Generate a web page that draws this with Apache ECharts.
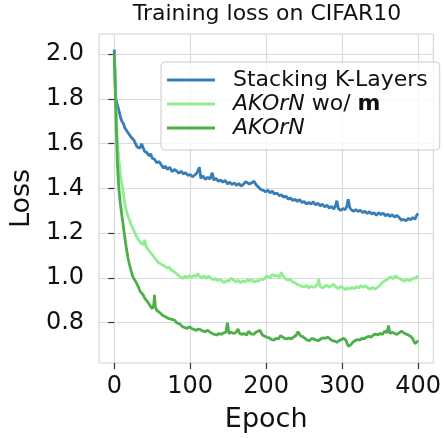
<!DOCTYPE html>
<html lang="en">
<head>
<meta charset="UTF-8">
<title>Training loss on CIFAR10</title>
<script src="https://cdn.jsdelivr.net/npm/echarts@6/dist/echarts.min.js"></script>
<style>
  html, body { margin: 0; padding: 0; background: #fff; }
  #chart { width: 444px; height: 438px; }
</style>
</head>
<body>
<div id="chart"></div>
<script>
// values
const seriesNames = ['Stacking K-Layers', 'AKOrN wo/ m', 'AKOrN']
const xTicks = [0, 100, 200, 300, 400]
const yTicks = [0.8, 1.0, 1.2, 1.4, 1.6, 1.8, 2.0]

const stackEpochs = [0, 1, 2, 4, 6, 8, 10, 12, 14, 16, 18, 20, 22, 24, 26, 28, 30, 32, 34, 36, 38, 40, 43, 46, 48, 50, 53, 56, 59, 62, 65, 67, 70, 73, 76, 79, 82, 85, 88, 91, 94, 97, 100, 103, 106, 109, 112, 114, 117, 120, 123, 126, 129, 131, 134, 137, 140, 143, 146, 149, 152, 155, 158, 161, 164, 167, 170, 173, 175, 178, 181, 184, 187, 190, 193, 196, 199, 202, 205, 208, 211, 214, 217, 220, 223, 226, 229, 232, 235, 238, 241, 244, 247, 250, 253, 256, 259, 262, 265, 268, 271, 274, 277, 280, 283, 286, 289, 291, 293, 295, 298, 301, 304, 306, 308, 310, 312, 315, 318, 321, 324, 327, 330, 333, 336, 339, 342, 345, 348, 351, 354, 357, 360, 363, 366, 369, 372, 375, 378, 381, 384, 387, 390, 393, 396, 398, 400]
const stackLoss = [2.02, 1.92, 1.80, 1.775, 1.75, 1.72, 1.70, 1.69, 1.67, 1.675, 1.65, 1.645, 1.63, 1.635, 1.615, 1.60, 1.585, 1.59, 1.58, 1.60, 1.595, 1.565, 1.56, 1.545, 1.555, 1.535, 1.53, 1.515, 1.52, 1.505, 1.49, 1.50, 1.485, 1.495, 1.475, 1.485, 1.478, 1.468, 1.477, 1.465, 1.47, 1.458, 1.462, 1.452, 1.46, 1.47, 1.495, 1.445, 1.455, 1.44, 1.45, 1.442, 1.47, 1.437, 1.445, 1.432, 1.438, 1.428, 1.436, 1.42, 1.428, 1.418, 1.425, 1.414, 1.422, 1.41, 1.418, 1.43, 1.438, 1.42, 1.425, 1.432, 1.415, 1.405, 1.395, 1.392, 1.385, 1.392, 1.38, 1.388, 1.375, 1.38, 1.368, 1.372, 1.36, 1.366, 1.352, 1.358, 1.346, 1.352, 1.342, 1.35, 1.337, 1.342, 1.33, 1.338, 1.33, 1.34, 1.326, 1.334, 1.322, 1.33, 1.318, 1.325, 1.312, 1.32, 1.308, 1.32, 1.345, 1.31, 1.302, 1.31, 1.305, 1.318, 1.352, 1.315, 1.305, 1.298, 1.305, 1.297, 1.303, 1.292, 1.298, 1.288, 1.296, 1.285, 1.292, 1.28, 1.292, 1.283, 1.29, 1.278, 1.285, 1.275, 1.283, 1.272, 1.28, 1.27, 1.258, 1.262, 1.255, 1.266, 1.26, 1.27, 1.262, 1.28, 1.288]

const noMEpochs = [0, 2, 4, 6, 8, 10, 12, 14, 16, 18, 20, 22, 24, 26, 28, 30, 32, 34, 36, 38, 40, 42, 44, 46, 48, 50, 52, 54, 56, 58, 60, 63, 66, 69, 72, 75, 78, 81, 84, 87, 90, 93, 96, 99, 102, 105, 108, 110, 112, 115, 118, 121, 124, 127, 130, 133, 136, 139, 142, 145, 148, 151, 154, 157, 160, 163, 166, 169, 172, 175, 178, 181, 184, 187, 190, 193, 196, 199, 202, 205, 208, 211, 214, 217, 220, 223, 226, 229, 232, 235, 238, 241, 244, 247, 250, 253, 256, 259, 262, 265, 268, 269, 271, 274, 277, 280, 283, 286, 289, 292, 295, 298, 301, 304, 307, 310, 313, 316, 319, 322, 325, 328, 331, 334, 337, 340, 343, 346, 349, 352, 355, 358, 361, 364, 367, 370, 373, 376, 379, 382, 385, 388, 391, 394, 397, 400]
const noMLoss = [2.00, 1.78, 1.62, 1.53, 1.46, 1.42, 1.38, 1.33, 1.30, 1.275, 1.26, 1.24, 1.225, 1.21, 1.195, 1.18, 1.172, 1.16, 1.155, 1.148, 1.17, 1.14, 1.132, 1.12, 1.118, 1.105, 1.10, 1.085, 1.082, 1.07, 1.068, 1.058, 1.055, 1.045, 1.048, 1.035, 1.03, 1.022, 1.012, 1.005, 0.998, 1.008, 1.0, 1.01, 1.002, 1.012, 1.006, 1.02, 1.008, 1.0, 1.01, 0.998, 1.008, 1.0, 0.992, 0.998, 0.988, 0.995, 0.985, 0.98, 0.988, 0.985, 1.0, 0.99, 0.982, 0.99, 0.978, 0.988, 0.982, 0.992, 0.986, 0.994, 0.98, 0.988, 0.985, 0.996, 0.992, 1.002, 1.008, 1.0, 1.016, 1.008, 1.012, 1.002, 1.025, 1.004, 0.995, 0.99, 0.994, 0.982, 0.978, 0.97, 0.968, 0.962, 0.96, 0.966, 0.955, 0.964, 0.958, 0.962, 0.975, 0.995, 0.962, 0.955, 0.962, 0.968, 0.958, 0.965, 0.972, 0.958, 0.953, 0.962, 0.955, 0.948, 0.956, 0.95, 0.958, 0.952, 0.962, 0.955, 0.966, 0.958, 0.965, 0.955, 0.95, 0.958, 0.95, 0.956, 0.965, 0.975, 0.985, 0.99, 0.998, 1.005, 0.995, 1.01, 1.0, 0.998, 0.99, 0.985, 0.995, 0.988, 0.992, 1.0, 0.998, 1.01]

const akornEpochs = [0, 2, 4, 6, 8, 10, 12, 14, 16, 18, 20, 22, 24, 26, 28, 30, 32, 34, 36, 38, 40, 42, 44, 46, 48, 50, 52, 53, 54, 56, 58, 60, 62, 64, 66, 68, 70, 72, 74, 76, 78, 80, 82, 84, 86, 88, 90, 93, 96, 99, 102, 105, 108, 111, 114, 117, 120, 123, 126, 129, 132, 135, 138, 141, 144, 147, 149, 151, 154, 157, 160, 163, 165, 168, 171, 174, 177, 180, 183, 186, 189, 192, 195, 198, 201, 204, 207, 210, 213, 216, 219, 221, 224, 227, 230, 233, 236, 239, 242, 245, 248, 251, 254, 257, 260, 263, 266, 269, 272, 275, 278, 281, 284, 287, 290, 293, 296, 299, 302, 305, 308, 311, 314, 317, 320, 323, 326, 329, 332, 335, 338, 341, 344, 347, 350, 353, 356, 359, 361, 363, 366, 369, 372, 375, 378, 381, 384, 387, 390, 393, 396, 398, 400]
const akornLoss = [2.00, 1.75, 1.52, 1.40, 1.33, 1.28, 1.23, 1.18, 1.13, 1.09, 1.06, 1.035, 1.01, 0.995, 0.985, 0.972, 0.958, 0.94, 0.935, 0.925, 0.91, 0.902, 0.893, 0.885, 0.872, 0.862, 0.88, 0.925, 0.87, 0.855, 0.85, 0.845, 0.838, 0.832, 0.828, 0.825, 0.822, 0.818, 0.812, 0.815, 0.808, 0.81, 0.80, 0.802, 0.795, 0.788, 0.782, 0.778, 0.775, 0.782, 0.774, 0.77, 0.766, 0.772, 0.768, 0.762, 0.76, 0.766, 0.758, 0.752, 0.748, 0.745, 0.752, 0.748, 0.755, 0.758, 0.80, 0.752, 0.758, 0.752, 0.756, 0.772, 0.752, 0.748, 0.752, 0.744, 0.762, 0.75, 0.748, 0.756, 0.762, 0.766, 0.745, 0.74, 0.735, 0.732, 0.725, 0.722, 0.73, 0.728, 0.742, 0.745, 0.73, 0.728, 0.732, 0.728, 0.736, 0.742, 0.76, 0.742, 0.738, 0.73, 0.722, 0.72, 0.73, 0.726, 0.722, 0.72, 0.728, 0.732, 0.73, 0.736, 0.728, 0.72, 0.718, 0.712, 0.72, 0.725, 0.73, 0.722, 0.695, 0.70, 0.712, 0.72, 0.725, 0.722, 0.73, 0.728, 0.735, 0.74, 0.735, 0.745, 0.75, 0.745, 0.752, 0.748, 0.762, 0.755, 0.787, 0.752, 0.758, 0.752, 0.748, 0.755, 0.762, 0.755, 0.75, 0.745, 0.74, 0.728, 0.706, 0.712, 0.72]

const colors = ['#377eb8', '#90ee90', '#4daf4a']

const toPairs = (xs, ys) => xs.map((x, i) => [x, ys[i]])

const chart = echarts.init(document.getElementById('chart'))
const font = 'DejaVu Sans'

const option = {
  animation: false,
  textStyle: { fontFamily: font },
  title: {
    text: 'Training loss on CIFAR10',
    left: 267,
    top: 3,
    padding: 0,
    textAlign: 'center',
    textStyle: { fontFamily: font, fontSize: 22, fontWeight: 'normal', color: '#111' }
  },
  grid: {
    left: 99, right: 9, top: 34, bottom: 72,
    show: true, borderColor: '#cfcfcf', borderWidth: 1
  },
  legend: {
    orient: 'vertical',
    left: 161,
    top: 62,
    padding: [6, 12, 10, 6],
    itemGap: 0,
    itemWidth: 48,
    itemHeight: 3,
    icon: 'rect',
    backgroundColor: 'rgba(255,255,255,0.8)',
    borderColor: '#cccccc',
    borderWidth: 1,
    borderRadius: 4,
    data: seriesNames,
    formatter: function (name) {
      if (name === 'AKOrN wo/ m') return '{i|AKOrN} wo/ {b|m}'
      if (name === 'AKOrN') return '{i|AKOrN}'
      return name
    },
    textStyle: {
      fontFamily: font, fontSize: 22, color: '#111', lineHeight: 24,
      padding: [0, 0, 0, 13],
      rich: {
        i: { fontFamily: font, fontSize: 22, fontStyle: 'italic', lineHeight: 24, color: '#111' },
        b: { fontFamily: font, fontSize: 22, fontWeight: 'bold', lineHeight: 24, color: '#111' }
      }
    }
  },
  xAxis: {
    type: 'value',
    min: -20,
    max: 420,
    name: 'Epoch',
    nameLocation: 'middle',
    nameGap: 43,
    nameTextStyle: { fontFamily: font, fontSize: 27, color: '#111' },
    axisLine: { show: false },
    axisTick: { show: true, length: 6, customValues: xTicks, lineStyle: { color: '#333', width: 1.2 } },
    axisLabel: { customValues: xTicks, fontFamily: font, fontSize: 24, color: '#111', margin: 12 },
    splitLine: { show: true, lineStyle: { color: '#dadada', width: 1.2 } }
  },
  yAxis: {
    type: 'value',
    min: 0.62,
    max: 2.09,
    name: 'Loss',
    nameLocation: 'middle',
    nameGap: 60,
    nameTextStyle: { fontFamily: font, fontSize: 27, color: '#111' },
    axisLine: { show: false },
    axisTick: { show: true, length: 6, customValues: yTicks, lineStyle: { color: '#333', width: 1.2 } },
    axisLabel: {
      customValues: yTicks, fontFamily: font, fontSize: 24, color: '#111', margin: 15,
      formatter: v => v.toFixed(1)
    },
    splitLine: { show: true, lineStyle: { color: '#dadada', width: 1.2 } }
  },
  series: [
    { name: seriesNames[0], type: 'line', data: toPairs(stackEpochs, stackLoss), color: colors[0] },
    { name: seriesNames[1], type: 'line', data: toPairs(noMEpochs, noMLoss), color: colors[1] },
    { name: seriesNames[2], type: 'line', data: toPairs(akornEpochs, akornLoss), color: colors[2] }
  ].map(s => Object.assign(s, {
    showSymbol: false,
    symbol: 'none',
    lineStyle: { width: 2.8, color: s.color },
    itemStyle: { color: s.color }
  }))
}

chart.setOption(option)
</script>
</body>
</html>
